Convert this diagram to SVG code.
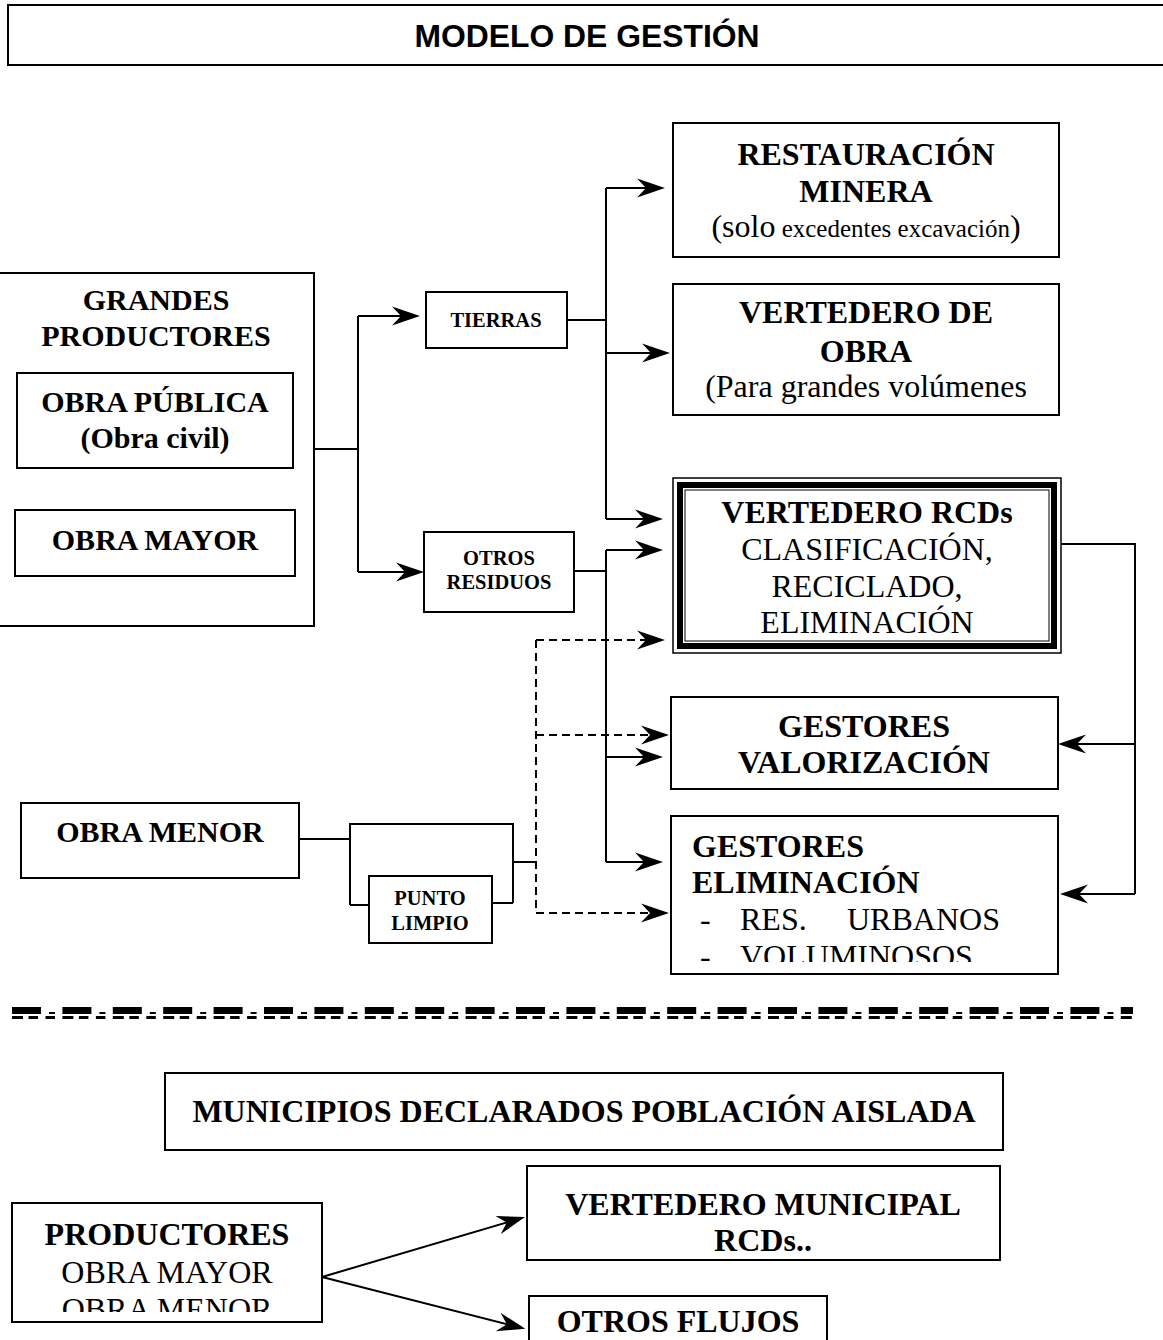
<svg xmlns="http://www.w3.org/2000/svg" width="1163" height="1340" viewBox="0 0 1163 1340">
<style>
.box{fill:#fff;stroke:#000;stroke-width:2}
.ln{fill:none;stroke:#000;stroke-width:2}
.dash{fill:none;stroke:#000;stroke-width:2;stroke-dasharray:8 5}
.arr{marker-end:url(#ah)}
.tb{font-family:"Liberation Serif","Times New Roman",serif;font-weight:bold;fill:#000;text-anchor:middle}
.tr{font-family:"Liberation Serif","Times New Roman",serif;fill:#000;text-anchor:middle}
.l{text-anchor:start}
.f32{font-size:32px}
.f30{font-size:30px}
.f20{font-size:20.5px}
</style>
<defs>
<marker id="ah" markerUnits="userSpaceOnUse" viewBox="-30 -11 31 22" refX="-10" refY="0" markerWidth="31" markerHeight="22" orient="auto" overflow="visible">
<path d="M0,0 L-28,-9.5 L-19,0 L-28,9.5 Z" fill="#000"/>
</marker>
<clipPath id="clipGE"><rect x="672" y="817" width="385" height="145"/></clipPath>
<clipPath id="clipPR"><rect x="13" y="1204" width="308" height="108"/></clipPath>
</defs>

<g id="title">
<rect x="8" y="5" width="1170" height="60" fill="#fff" stroke="#000" stroke-width="2"/>
<text x="587" y="47" font-family="Liberation Sans, Arial, sans-serif" font-weight="bold" font-size="31" text-anchor="middle" textLength="345" lengthAdjust="spacingAndGlyphs">MODELO DE GESTIÓN</text>
</g>

<g id="connectors">
<!-- from grandes productores -->
<path class="ln" d="M314,449 H358 M358,316 V572"/>
<line class="ln arr" x1="358" y1="316" x2="410" y2="316"/>
<line class="ln arr" x1="358" y1="572" x2="414" y2="572"/>
<!-- tierras -->
<path class="ln" d="M567,320 H606 M606,188 V519"/>
<line class="ln arr" x1="606" y1="188" x2="655" y2="188"/>
<line class="ln arr" x1="606" y1="353" x2="660" y2="353"/>
<line class="ln arr" x1="606" y1="519" x2="653" y2="519"/>
<!-- otros residuos -->
<path class="ln" d="M574,571 H606 M606,550 V862"/>
<line class="ln arr" x1="606" y1="550" x2="653" y2="550"/>
<line class="ln arr" x1="606" y1="757" x2="653" y2="757"/>
<line class="ln arr" x1="606" y1="862" x2="653" y2="862"/>
<!-- obra menor / punto limpio bracket -->
<path class="ln" d="M299,839 H350 M350,905 V824 H513 V903 M350,905 H369 M492,903 H513 M513,862 H536"/>
<!-- dashed -->
<path class="dash" d="M536,640 V913"/>
<line class="dash arr" x1="536" y1="640" x2="655" y2="640"/>
<line class="dash arr" x1="536" y1="735" x2="659" y2="735"/>
<line class="dash arr" x1="536" y1="913" x2="659" y2="913"/>
<!-- right return -->
<path class="ln" d="M1061,544 H1135 V894"/>
<line class="ln arr" x1="1135" y1="744" x2="1068" y2="744"/>
<line class="ln arr" x1="1135" y1="894" x2="1070" y2="894"/>
<!-- bottom -->
<line class="ln arr" x1="322" y1="1277" x2="515.4" y2="1219.9"/>
<line class="ln arr" x1="322" y1="1277" x2="515.6" y2="1326.4"/>
</g>

<g id="grandes-productores">
<rect class="box" x="-2" y="273" width="316" height="353"/>
<text class="tb f30" x="156" y="310">GRANDES</text>
<text class="tb f30" x="156" y="346">PRODUCTORES</text>
</g>
<g id="obra-publica">
<rect class="box" x="17" y="373" width="276" height="95"/>
<text class="tb f30" x="155" y="412">OBRA PÚBLICA</text>
<text class="tb f30" x="155" y="448">(Obra civil)</text>
</g>
<g id="obra-mayor">
<rect class="box" x="15" y="510" width="280" height="66"/>
<text class="tb f30" x="155" y="550">OBRA MAYOR</text>
</g>
<g id="tierras">
<rect class="box" x="426" y="292" width="141" height="56"/>
<text class="tb f20" x="496" y="327">TIERRAS</text>
</g>
<g id="otros-residuos">
<rect class="box" x="424" y="532" width="150" height="80"/>
<text class="tb f20" x="499" y="565">OTROS</text>
<text class="tb f20" x="499" y="589">RESIDUOS</text>
</g>
<g id="obra-menor">
<rect class="box" x="21" y="803" width="278" height="75"/>
<text class="tb f30" x="160" y="842">OBRA MENOR</text>
</g>
<g id="punto-limpio">
<rect class="box" x="369" y="876" width="123" height="67"/>
<text class="tb f20" x="430" y="905">PUNTO</text>
<text class="tb f20" x="430" y="930">LIMPIO</text>
</g>

<g id="restauracion-minera">
<rect class="box" x="673" y="123" width="386" height="134"/>
<text class="tb f32" x="866" y="165">RESTAURACIÓN</text>
<text class="tb f32" x="866" y="202">MINERA</text>
<text class="tr f32" x="866" y="237">(solo<tspan font-size="25"> excedentes excavación</tspan>)</text>
</g>
<g id="vertedero-obra">
<rect class="box" x="673" y="284" width="386" height="131"/>
<text class="tb f32" x="866" y="323">VERTEDERO DE</text>
<text class="tb f32" x="866" y="362">OBRA</text>
<text class="tr f32" x="866" y="397">(Para grandes volúmenes</text>
</g>
<g id="vertedero-rcds">
<rect x="673" y="478" width="388" height="175" fill="#fff" stroke="#000" stroke-width="1.5"/>
<rect x="680" y="485" width="374" height="161" fill="none" stroke="#000" stroke-width="6"/>
<rect x="685" y="490" width="364" height="151" fill="none" stroke="#000" stroke-width="1"/>
<text class="tb f32" x="867" y="523">VERTEDERO RCDs</text>
<text class="tr f32" x="867" y="560">CLASIFICACIÓN,</text>
<text class="tr f32" x="867" y="597">RECICLADO,</text>
<text class="tr f32" x="867" y="633">ELIMINACIÓN</text>
</g>
<g id="gestores-valorizacion">
<rect class="box" x="671" y="697" width="387" height="92"/>
<text class="tb f32" x="864" y="737">GESTORES</text>
<text class="tb f32" x="864" y="773">VALORIZACIÓN</text>
</g>
<g id="gestores-eliminacion">
<rect class="box" x="671" y="816" width="387" height="158"/>
<text class="tb f32 l" x="692" y="857">GESTORES</text>
<text class="tb f32 l" x="692" y="893">ELIMINACIÓN</text>
<g clip-path="url(#clipGE)">
<text class="tr f32 l" x="700" y="930">-<tspan x="740">RES.</tspan><tspan x="847">URBANOS</tspan></text>
<text class="tr f32 l" x="700" y="967">-<tspan x="740">VOLUMINOSOS</tspan></text>
</g>
</g>

<g id="separator">
<line x1="12" y1="1010.5" x2="1133" y2="1010.5" stroke="#000" stroke-width="7" stroke-dasharray="29 21.4"/>
<line x1="49" y1="1013" x2="1133" y2="1013" stroke="#000" stroke-width="2" stroke-dasharray="6 44.4"/>
<line x1="12" y1="1017.5" x2="1133" y2="1017.5" stroke="#000" stroke-width="3" stroke-dasharray="11 5.5 9.5 7.5 9.5 7.4"/>
</g>

<g id="municipios">
<rect class="box" x="165" y="1073" width="838" height="77"/>
<text class="tb f32" x="584" y="1122">MUNICIPIOS DECLARADOS POBLACIÓN AISLADA</text>
</g>
<g id="productores">
<rect class="box" x="12" y="1203" width="310" height="119"/>
<text class="tb f32" x="167" y="1245">PRODUCTORES</text>
<g clip-path="url(#clipPR)">
<text class="tr f32" x="167" y="1283">OBRA MAYOR</text>
<text class="tr f32" x="167" y="1320">OBRA MENOR</text>
</g>
</g>
<g id="vertedero-municipal">
<rect class="box" x="527" y="1166" width="473" height="94"/>
<text class="tb f32" x="763" y="1215">VERTEDERO MUNICIPAL</text>
<text class="tb f32" x="763" y="1251">RCDs..</text>
</g>
<g id="otros-flujos">
<rect class="box" x="529" y="1296" width="298" height="60"/>
<text class="tb f32" x="678" y="1332">OTROS FLUJOS</text>
</g>
</svg>
